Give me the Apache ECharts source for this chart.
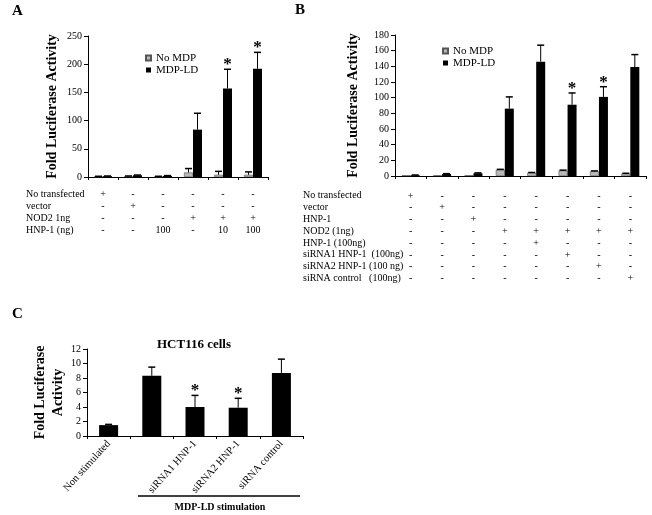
<!DOCTYPE html>
<html>
<head>
<meta charset="utf-8">
<script src="https://cdn.jsdelivr.net/npm/echarts@6/dist/echarts.min.js"></script>
<style>
  html, body { margin: 0; background: #fff; }
  #chart { width: 652px; height: 515px; }
</style>
</head>
<body>
<div id="chart"></div>
<script>
var FONT = "'Liberation Serif', 'Times New Roman', serif";

// panel A
var rowsA = ['No transfected', 'vector', 'NOD2 1ng', 'HNP-1 (ng)'];
var signsA = [
    ['+', '-', '-', '-', '-', '-'],
    ['-', '+', '-', '-', '-', '-'],
    ['-', '-', '-', '+', '+', '+'],
    ['-', '-', '100', '-', '10', '100']
];
var noMdpA = [1, 1.5, 1, 8, 4, 4];
var noMdpErrA = [0.3, 0.3, 0.3, 7, 6, 5];
var mdpA = [1.5, 3, 2, 84, 157, 192];
var mdpErrA = [0.3, 0.5, 0.5, 29, 34, 29];
var sigA = [0, 0, 0, 0, 1, 1];

// panel B
var rowsB = ['No transfected', 'vector', 'HNP-1', 'NOD2 (1ng)', 'HNP-1 (100ng)',
    'siRNA1 HNP-1  (100ng)', 'siRNA2 HNP-1 (100 ng)', 'siRNA control   (100ng)'];
var signsB = [
    ['+', '-', '-', '-', '-', '-', '-', '-'],
    ['-', '+', '-', '-', '-', '-', '-', '-'],
    ['-', '-', '+', '-', '-', '-', '-', '-'],
    ['-', '-', '-', '+', '+', '+', '+', '+'],
    ['-', '-', '-', '-', '+', '-', '-', '-'],
    ['-', '-', '-', '-', '-', '+', '-', '-'],
    ['-', '-', '-', '-', '-', '-', '+', '-'],
    ['-', '-', '-', '-', '-', '-', '-', '+']
];
var noMdpB = [1, 1, 1, 8, 4, 7, 6, 3];
var noMdpErrB = [0, 0, 0, 0.5, 0.5, 0.5, 0.5, 0.5];
var mdpB = [1, 2.5, 3.5, 86, 146, 91, 101, 139];
var mdpErrB = [0.3, 0.5, 0.5, 15, 21, 15, 13, 16];
var sigB = [0, 0, 0, 0, 0, 1, 1, 0];

// panel C
var catsC = ['Non stimulated', '', 'siRNA1 HNP-1', 'siRNA2 HNP-1', 'siRNA control'];
var valC = [1.5, 8.3, 4.0, 3.9, 8.7];
var errC = [0.1, 1.2, 1.6, 1.3, 1.9];
var sigC = [0, 0, 1, 1, 0];

function columns(signs) {
    return signs[0].map(function (_, i) {
        return signs.map(function (r) { return r[i]; }).join('\n');
    });
}

function errSeries(vals, errs, sig, offset, idx) {
    return {
        type: 'custom',
        xAxisIndex: idx,
        yAxisIndex: idx,
        z: 5,
        silent: true,
        data: vals.map(function (v, i) { return [i, v, errs[i], sig[i]]; }),
        renderItem: function (params, api) {
            var base = api.coord([api.value(0), api.value(1)]);
            var top = api.coord([api.value(0), api.value(1) + api.value(2)]);
            var x = base[0] + offset;
            var kids = [];
            if (api.value(2) > 0) {
                kids.push({ type: 'line', shape: { x1: x, y1: base[1], x2: x, y2: top[1] },
                    style: { stroke: '#000', lineWidth: 1 } });
                kids.push({ type: 'line', shape: { x1: x - 3.5, y1: top[1], x2: x + 3.5, y2: top[1] },
                    style: { stroke: '#000', lineWidth: 1.5 } });
            }
            if (api.value(3)) {
                kids.push({ type: 'text', x: x, y: top[1] + 4,
                    style: { text: '*', font: 'bold 17px ' + FONT, align: 'center',
                        verticalAlign: 'bottom', fill: '#000' } });
            }
            return { type: 'group', children: kids };
        }
    };
}

function xAxisBase(idx, data) {
    return {
        type: 'category', gridIndex: idx, data: data,
        axisLine: { lineStyle: { color: '#000', width: 1 } },
        axisTick: { show: true, length: 3, lineStyle: { color: '#000' } },
        axisLabel: { interval: 0, color: '#000', fontFamily: FONT, fontSize: 10 }
    };
}

function yAxisBase(idx, max, interval, name, gap) {
    return {
        type: 'value', gridIndex: idx, min: 0, max: max, interval: interval,
        name: name, nameLocation: 'middle', nameRotate: 90, nameGap: gap,
        nameTextStyle: { color: '#000', fontFamily: FONT, fontWeight: 'bold', fontSize: 14, lineHeight: 18 },
        splitLine: { show: false },
        axisLine: { show: true, lineStyle: { color: '#000', width: 1 } },
        axisTick: { show: true, length: 4, lineStyle: { color: '#000' } },
        axisLabel: { color: '#000', fontFamily: FONT, fontSize: 10, margin: 6 }
    };
}

var chart = echarts.init(document.getElementById('chart'), null, { renderer: 'canvas' });

var xA = xAxisBase(0, columns(signsA));
xA.axisLabel.lineHeight = 12;
xA.axisLabel.margin = 11;
var xB = xAxisBase(1, columns(signsB));
xB.axisLabel.lineHeight = 11.8;
xB.axisLabel.margin = 14;
var xC = xAxisBase(2, catsC);
xC.axisLabel.rotate = 48;
xC.axisLabel.margin = 6;
xC.axisLabel.fontSize = 10.5;

var greyStyle = { color: '#b8b8b8', borderColor: '#555', borderWidth: 0.6 };
var legendText = { fontFamily: FONT, fontSize: 11, color: '#000', lineHeight: 12 };

chart.setOption({
    animation: false,
    grid: [
        { left: 88, top: 36, width: 180, height: 141 },
        { left: 395, top: 35, width: 251, height: 141 },
        { left: 87, top: 349, width: 216, height: 87 }
    ],
    legend: [
        { data: ['No MDP', 'MDP-LD'], orient: 'vertical', left: 140, top: 47,
          itemWidth: 5, itemHeight: 5, itemGap: 0, icon: 'rect', textStyle: legendText },
        { data: ['No MDP', 'MDP-LD'], orient: 'vertical', left: 437, top: 40,
          itemWidth: 5, itemHeight: 5, itemGap: 0, icon: 'rect', textStyle: legendText }
    ],
    xAxis: [xA, xB, xC],
    yAxis: [
        yAxisBase(0, 250, 50, 'Fold Luciferase Activity', 27),
        yAxisBase(1, 180, 20, 'Fold Luciferase Activity', 33),
        yAxisBase(2, 12, 2, 'Fold Luciferase\nActivity', 20)
    ],
    series: [
        { name: 'No MDP', type: 'bar', xAxisIndex: 0, yAxisIndex: 0, data: noMdpA,
          barWidth: 9, barGap: '0%', itemStyle: greyStyle },
        { name: 'MDP-LD', type: 'bar', xAxisIndex: 0, yAxisIndex: 0, data: mdpA,
          barWidth: 9, barGap: '0%', itemStyle: { color: '#000' } },
        { name: 'No MDP', type: 'bar', xAxisIndex: 1, yAxisIndex: 1, data: noMdpB,
          barWidth: 9, barGap: '0%', itemStyle: greyStyle },
        { name: 'MDP-LD', type: 'bar', xAxisIndex: 1, yAxisIndex: 1, data: mdpB,
          barWidth: 9, barGap: '0%', itemStyle: { color: '#000' } },
        { type: 'bar', xAxisIndex: 2, yAxisIndex: 2, data: valC,
          barWidth: 19, itemStyle: { color: '#000' } },
        errSeries(noMdpA, noMdpErrA, [0, 0, 0, 0, 0, 0], -4.5, 0),
        errSeries(mdpA, mdpErrA, sigA, 4.5, 0),
        errSeries(noMdpB, noMdpErrB, [0, 0, 0, 0, 0, 0, 0, 0], -4.5, 1),
        errSeries(mdpB, mdpErrB, sigB, 4.5, 1),
        errSeries(valC, errC, sigC, 0, 2)
    ],
    graphic: [
        { type: 'text', left: 12, top: 4, style: { text: 'A', font: 'bold 15px ' + FONT, fill: '#000' } },
        { type: 'text', left: 295, top: 3, style: { text: 'B', font: 'bold 15px ' + FONT, fill: '#000' } },
        { type: 'text', left: 12, top: 307, style: { text: 'C', font: 'bold 15px ' + FONT, fill: '#000' } },
        { type: 'text', x: 26, y: 188,
          style: { text: rowsA.join('\n'), font: '10px ' + FONT, lineHeight: 12, fill: '#000' } },
        { type: 'text', x: 303, y: 189.8,
          style: { text: rowsB.join('\n'), font: '10px ' + FONT, lineHeight: 11.8, fill: '#000' } },
        { type: 'text', x: 194, y: 345,
          style: { text: 'HCT116 cells', font: 'bold 13px ' + FONT, fill: '#000',
                   align: 'center', verticalAlign: 'middle' } },
        { type: 'line', shape: { x1: 138, y1: 496, x2: 300, y2: 496 },
          style: { stroke: '#000', lineWidth: 1.5 } },
        { type: 'text', x: 220, y: 507,
          style: { text: 'MDP-LD stimulation', font: 'bold 10px ' + FONT, fill: '#000',
                   align: 'center', verticalAlign: 'middle' } }
    ]
});
</script>
</body>
</html>
